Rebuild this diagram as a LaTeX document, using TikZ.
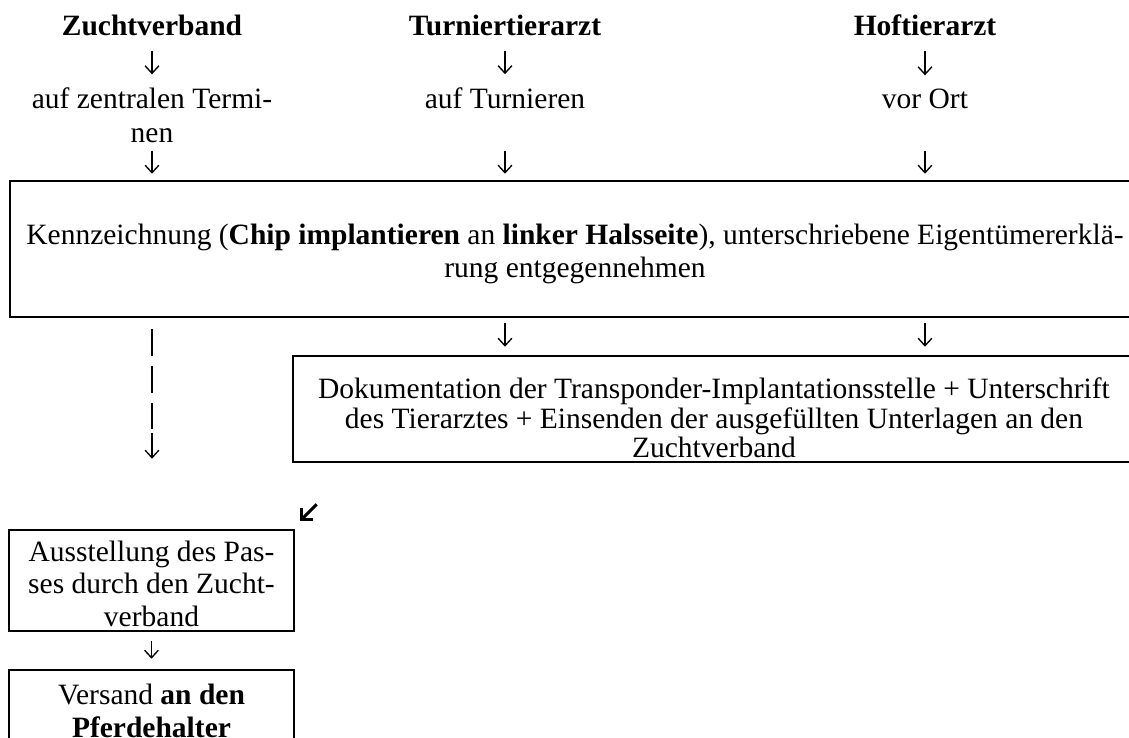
\documentclass[tikz,border=0pt]{standalone}
\usepackage{fontspec}
\setmainfont{Liberation Serif}
\usetikzlibrary{arrows.meta}
\begin{document}
\begin{tikzpicture}[x=0.4pt,y=-0.4pt,
  txt/.style={font=\fontsize{11.8}{13.5}\selectfont, align=center, inner sep=0pt},
  tight/.style={font=\fontsize{11.8}{13}\selectfont},
  tighter/.style={font=\fontsize{11.8}{11.8}\selectfont},
  box/.style={draw, line width=1pt, inner sep=0pt},
  arr/.style={line width=0.55pt, -{Straight Barb[length=3pt,width=5.5pt]}},
  dasharr/.style={line width=0.8pt, dash pattern=on 10.8pt off 4pt},
  bigarr/.style={line width=1.2pt, -{Straight Barb[length=3.4pt,width=6.8pt]}}]
\useasboundingbox (0,0) rectangle (1129,738);
\clip (0,0) rectangle (1129,738);
% top row
\node[txt] (zv) at (152,25) {\textbf{Zuchtverband}};
\node[txt] (tt) at (505,25) {\textbf{Turniertierarzt}};
\node[txt] (ht) at (925,25) {\textbf{Hoftierarzt}};
\node[txt] (zvt) at (152,115) {auf zentralen Termi-\\nen};
\node[txt] (tto) at (505,98) {auf Turnieren};
\node[txt] (hto) at (925,98.5) {vor Ort};
% boxes
\node[box, minimum width=452pt, minimum height=54.4pt] (kz) at (575,249) {};
\node[txt] (kzt) at (575,254)
  {Kennzeichnung (\textbf{Chip implantieren} an \textbf{linker Halsseite}), unterschriebene Eigentümererklä-\\rung entgegennehmen};
\node[box, minimum width=338.8pt, minimum height=42.4pt] (dok) at (716.5,409) {};
\node[txt, tighter] (dokt) at (714,418)
  {Dokumentation der Transponder-Implantationsstelle + Unterschrift\\des Tierarztes + Einsenden der ausgefüllten Unterlagen an den\\Zuchtverband};
\node[box, minimum width=114pt, minimum height=40.4pt] (aus) at (151.5,580.5) {};
\node[txt, tight] (aust) at (151.5,583.5) {Ausstellung des Pas-\\ses durch den Zucht-\\verband};
\node[box, minimum width=114pt, minimum height=36pt] (ver) at (151.5,715) {};
\node[txt, tight] (vert) at (151.5,711) {Versand \textbf{an den}\\\textbf{Pferdehalter}};
% arrows row 1
\draw[arr, shorten <=5.9pt, shorten >=5.1pt] (zv) -- (zvt);
\draw[arr, shorten <=5.9pt, shorten >=5.1pt] (tt) -- (tto);
\draw[arr, shorten <=5.9pt, shorten >=5.1pt] (ht) -- (hto);
% arrows row 2
\draw[arr, shorten <=3.1pt, shorten >=2.4pt] (zvt) -- (zvt |- kz.north);
\draw[arr, shorten <=16.7pt, shorten >=2.4pt] (tto) -- (tto |- kz.north);
\draw[arr, shorten <=16.7pt, shorten >=2.4pt] (hto) -- (hto |- kz.north);
% arrows row 3
\draw[arr, shorten <=2pt, shorten >=3.2pt] (tto |- kz.south) -- (tto |- dok.north);
\draw[arr, shorten <=2pt, shorten >=3.2pt] (hto |- kz.south) -- (hto |- dok.north);
% dashed left branch
\draw[dasharr, shorten <=4.4pt, shorten >=40pt] (zvt |- kz.south) -- (zvt |- aus.north);
\draw[arr, shorten <=46pt, shorten >=28pt] (zvt |- kz.south) -- (zvt |- aus.north);
% diagonal arrow
\draw[bigarr] ([xshift=10pt,yshift=-16.4pt]dok.south west) -- ([xshift=3.2pt,yshift=-23.2pt]dok.south west);
% aus -> ver
\draw[arr, shorten <=3.6pt, shorten >=4pt] (aus) -- (ver);
\end{tikzpicture}
\end{document}
